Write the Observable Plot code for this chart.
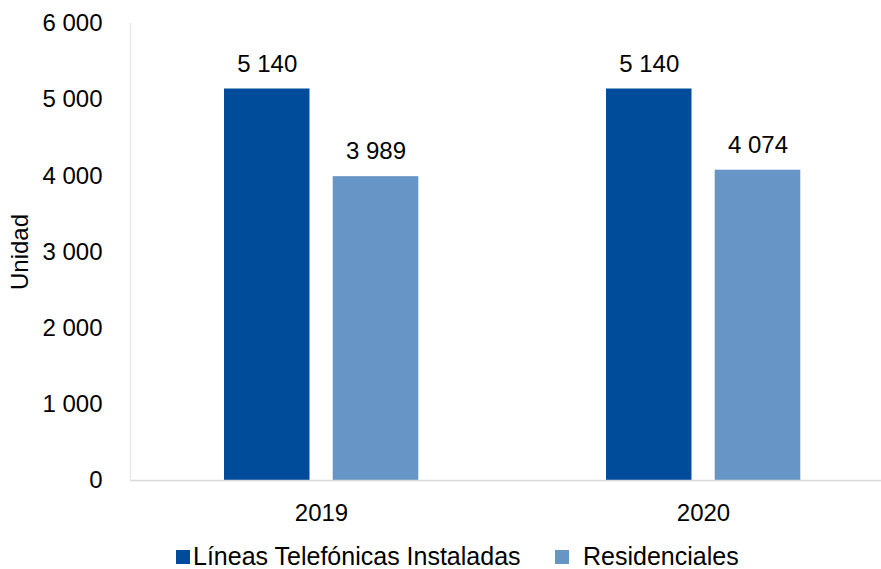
<!DOCTYPE html>
<html>
<head>
<meta charset="utf-8">
<script src="https://cdn.jsdelivr.net/npm/d3@7"></script>
<script src="https://cdn.jsdelivr.net/npm/@observablehq/plot@0.6"></script>
<style>
  html, body { margin: 0; padding: 0; background: #fff; }
  body { width: 881px; height: 569px; overflow: hidden; font-family: "Liberation Sans", Arial, sans-serif; }
  #legend { position: relative; height: 39px; font-size: 25px; color: #000; }
  .item { position: absolute; top: 12px; display: flex; align-items: center; white-space: nowrap; }
  .sw { width: 14px; height: 14px; display: inline-block; margin-right: 3px; }
</style>
</head>
<body>
<div id="chart"></div>
<div id="legend"></div>
<script>
const years = ["2019", "2020"];
const seriesNames = ["Líneas Telefónicas Instaladas", "Residenciales"];
const lineas = [5140, 5140];
const residenciales = [3989, 4074];
const yTicks = [0, 1000, 2000, 3000, 4000, 5000, 6000];
const colors = ["#004C9B", "#6795C5"];

const data = years.flatMap((y, i) => [
  {year: y, series: seriesNames[0], value: lineas[i]},
  {year: y, series: seriesNames[1], value: residenciales[i]}
]);

const fmt = d3.formatLocale({decimal: ",", thousands: " ", grouping: [3], currency: ["", ""]}).format(",d");
const FS = 24;

const chart = Plot.plot({
  width: 881,
  height: 530,
  marginTop: 23,
  marginBottom: 50,
  marginLeft: 130,
  marginRight: 0,
  style: {fontFamily: "'Liberation Sans', Arial, sans-serif", fontSize: FS + "px", color: "#000", background: "#fff", overflow: "hidden"},
  x: {domain: years, range: [130, 894], padding: 0},
  y: {domain: [0, 6000]},
  color: {domain: seriesNames, range: colors},
  marks: [
    Plot.ruleX([years[0]], {dx: -191, y1: 0, y2: 6000, stroke: "#EEECE1", strokeWidth: 1.5}),
    Plot.barY(data.filter(d => d.series === seriesNames[0]), {x: "year", y: "value", fill: "series", insetLeft: 94, insetRight: 202.5}),
    Plot.barY(data.filter(d => d.series === seriesNames[1]), {x: "year", y: "value", fill: "series", insetLeft: 202.7, insetRight: 93.7}),
    Plot.ruleY([0], {stroke: "#D9D9D9", strokeWidth: 1.5}),
    Plot.text(data.filter(d => d.series === seriesNames[0]), {x: "year", y: "value", text: d => fmt(d.value), dx: -54.25, dy: -25, lineAnchor: "middle", fill: "#000", fontSize: FS}),
    Plot.text(data.filter(d => d.series === seriesNames[1]), {x: "year", y: "value", text: d => fmt(d.value), dx: 54.5, dy: -25, lineAnchor: "middle", fill: "#000", fontSize: FS}),
    Plot.axisY(yTicks, {tickSize: 0, tickPadding: 28, tickFormat: fmt, label: null, fontSize: FS}),
    Plot.axisX({tickSize: 0, tickPadding: 23, label: null, fontSize: FS}),
    Plot.text(["Unidad"], {frameAnchor: "left", textAnchor: "middle", lineAnchor: "middle", rotate: -90, dx: -110, fontSize: FS, fill: "#000"})
  ]
});
document.getElementById("chart").appendChild(chart);

const legend = document.getElementById("legend");
const lefts = [176, 555];
seriesNames.forEach((name, i) => {
  const item = document.createElement("div");
  item.className = "item";
  item.style.left = lefts[i] + "px";
  const sw = document.createElement("span");
  sw.className = "sw";
  sw.style.background = colors[i];
  if (i === 1) sw.style.marginRight = "14px";
  const t = document.createElement("span");
  t.textContent = name;
  item.appendChild(sw);
  item.appendChild(t);
  legend.appendChild(item);
});
</script>
</body>
</html>
